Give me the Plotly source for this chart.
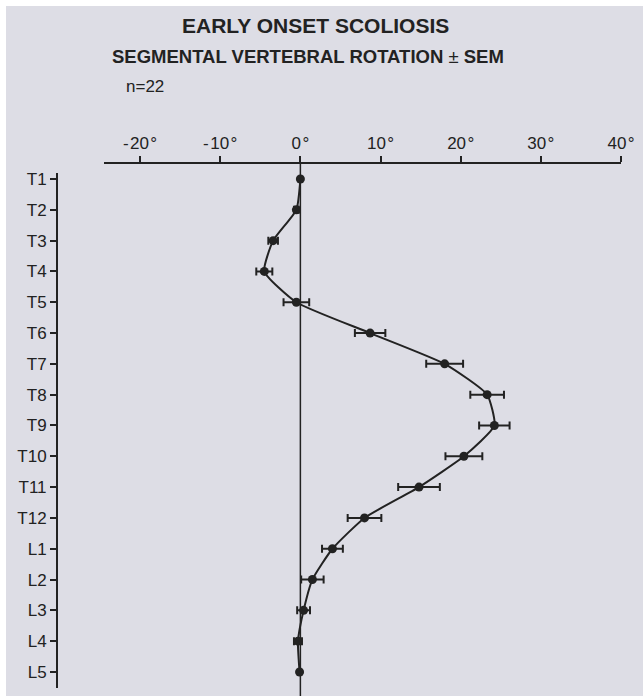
import plotly.graph_objects as go

# ---- data ----
levels = ["T1", "T2", "T3", "T4", "T5", "T6", "T7", "T8", "T9", "T10",
          "T11", "T12", "L1", "L2", "L3", "L4", "L5"]
rotation_deg = [0.0, -0.5, -3.4, -4.5, -0.5, 8.7, 18.0, 23.3, 24.2, 20.4,
                14.8, 8.0, 4.0, 1.5, 0.4, -0.3, -0.1]
sem_deg = [0.0, 0.3, 0.6, 1.0, 1.6, 1.9, 2.3, 2.1, 1.9, 2.3,
           2.6, 2.1, 1.3, 1.4, 0.8, 0.5, 0.0]
x_tick_vals = [-20, -10, 0, 10, 20, 30, 40]
x_tick_text = ["-\u200a20\u200a°", "-\u200a10\u200a°", "0\u200a°", "10\u200a°",
               "20\u200a°", "30\u200a°", "40\u200a°"]

W, H = 643, 696
BG = "#dddde5"
INK = "#222222"
FONT = "Liberation Sans"

def px_x(p):
    return p / W

def px_y(p):
    return (H - p) / H

fig = go.Figure()
fig.add_trace(go.Scatter(
    x=rotation_deg,
    y=levels,
    mode="lines+markers",
    line=dict(color=INK, width=2, shape="spline", smoothing=0.5),
    marker=dict(color=INK, size=9),
    error_x=dict(type="data", array=sem_deg, visible=True,
                 color=INK, thickness=2, width=4),
    showlegend=False,
    hoverinfo="skip",
))

x_axis_y = px_y(163)

fig.update_layout(
    width=W, height=H,
    margin=dict(l=0, r=0, t=0, b=0),
    paper_bgcolor="white",
    plot_bgcolor="rgba(0,0,0,0)",
    font=dict(family=FONT, color=INK),
    xaxis=dict(
        domain=[px_x(104), px_x(621)],
        range=[-24.5, 40],
        side="top", anchor="free", position=x_axis_y,
        tickvals=x_tick_vals, ticktext=x_tick_text,
        ticks="outside", ticklen=6, tickwidth=2, tickcolor=INK,
        showline=True, linecolor=INK, linewidth=2,
        showgrid=False, zeroline=False,
        tickfont=dict(size=17, family=FONT, color=INK),
        automargin=False,
    ),
    yaxis=dict(
        domain=[px_y(688), px_y(173)],
        type="category",
        categoryorder="array", categoryarray=levels,
        range=[16.52, -0.195],
        anchor="free", position=px_x(57),
        ticks="outside", ticklen=6, tickwidth=2, tickcolor=INK,
        showline=True, linecolor=INK, linewidth=2,
        showgrid=False, zeroline=False,
        tickfont=dict(size=17, family=FONT, color=INK),
        automargin=False,
    ),
    shapes=[
        dict(type="rect", xref="paper", yref="paper",
             x0=px_x(6), x1=1, y0=0, y1=px_y(6),
             fillcolor=BG, line=dict(width=0), layer="below"),
        dict(type="line", xref="x", yref="paper",
             x0=0, x1=0, y0=0, y1=x_axis_y,
             line=dict(color=INK, width=1.5), layer="below"),
    ],
    annotations=[
        dict(text="<b>EARLY ONSET SCOLIOSIS</b>", xref="paper", yref="paper",
             x=px_x(315), y=px_y(26), xanchor="center", yanchor="middle",
             showarrow=False, font=dict(size=21, family=FONT, color=INK)),
        dict(text="<b>SEGMENTAL VERTEBRAL ROTATION</b> ± <b>SEM</b>",
             xref="paper", yref="paper",
             x=px_x(308), y=px_y(57), xanchor="center", yanchor="middle",
             showarrow=False, font=dict(size=18.5, family=FONT, color=INK)),
        dict(text="n=22", xref="paper", yref="paper",
             x=px_x(124), y=px_y(86), xanchor="left", yanchor="middle",
             showarrow=False, font=dict(size=17, family=FONT, color=INK)),
    ],
)

fig.write_html("out.html",
               config={"displayModeBar": False},
               post_script="document.body.style.margin='0';"
                           "document.body.style.overflow='hidden';")
